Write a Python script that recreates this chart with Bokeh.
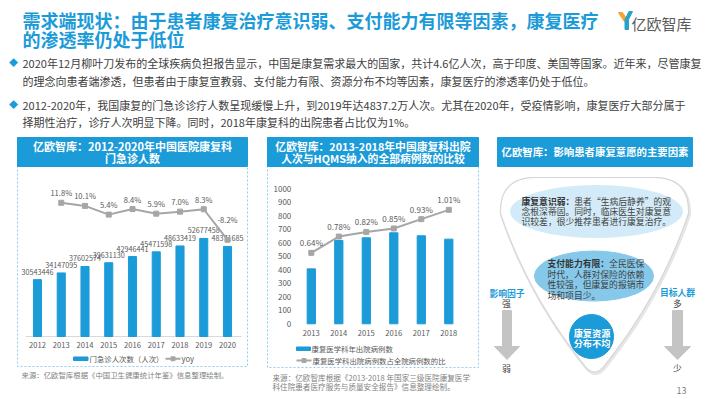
import numpy as np
from bokeh.plotting import figure
from bokeh.models import Range1d
from bokeh.core.properties import value
from bokeh.embed import file_html
from bokeh.resources import INLINE

# ---------------- data ----------------
years1 = [2012, 2013, 2014, 2015, 2016, 2017, 2018, 2019, 2020]
visits = [30543446, 34147095, 37602574, 39631130, 42946441, 45471598, 48633419, 52677458, 48371685]
yoy_years = [2013, 2014, 2015, 2016, 2017, 2018, 2019, 2020]
yoy = [11.8, 10.1, 5.4, 8.4, 5.9, 7.0, 8.3, -8.2]

years2 = [2013, 2014, 2015, 2016, 2017, 2018]
discharges = [407, 617, 637, 674, 652, 627]
ratio = [0.64, 0.78, 0.82, 0.85, 0.93, 1.01]
yticks2 = [0, 100, 200, 300, 400, 500, 600, 700, 800, 900, 1000]

F = "Noto Sans CJK SC"
BLUE = "#1B9BD8"
GRAY_LINE = "#A6A6A6"
TXT = "#404040"
LBL = "#595959"

p = figure(width=710, height=399, x_range=Range1d(0, 710), y_range=Range1d(399, 0),
           output_backend="svg", toolbar_location=None, min_border=0,
           x_axis_location=None, y_axis_location=None)
p.grid.visible = False
p.outline_line_color = None
p.background_fill_color = "white"
p.border_fill_color = "white"


def txt(x, y, s, size, color=TXT, bold=False, align="left", baseline="middle"):
    p.text(x=[x], y=[y], text=[s], text_font=value(F), text_font_size=value(f"{size}px"),
           text_color=color, text_font_style="bold" if bold else "normal",
           text_align=align, text_baseline=baseline)


# ---------------- header ----------------
txt(22, 19.5, "需求端现状：由于患者康复治疗意识弱、支付能力有限等因素，康复医疗", 18, BLUE, bold=True)
txt(22, 38, "的渗透率仍处于低位", 18, BLUE, bold=True)

# logo
p.patch([618, 622, 626, 624, 621], [12, 12, 18, 21, 17], color="#F5A431")
p.patch([628.5, 632, 628, 628, 624.5, 624.5], [11, 11, 19, 29, 29, 19], color="#27A3C9")
txt(631, 22.5, "亿欧智库", 15, "#5A5A5A")

txt(13, 62, "◆", 9, BLUE, align="center")
txt(22, 62, "2020年12月柳叶刀发布的全球疾病负担报告显示，中国是康复需求最大的国家，共计4.6亿人次，高于印度、美国等国家。近年来，尽管康复", 11)
txt(22, 80, "的理念向患者端渗透，但患者由于康复宣教弱、支付能力有限、资源分布不均等因素，康复医疗的渗透率仍处于低位。", 11)
txt(13, 104, "◆", 9, BLUE, align="center")
txt(22, 104, "2012-2020年，我国康复的门急诊诊疗人数呈现缓慢上升，到2019年达4837.2万人次。尤其在2020年，受疫情影响，康复医疗大部分属于", 11)
txt(22, 121.5, "择期性治疗，诊疗人次明显下降。同时，2018年康复科的出院患者占比仅为1%。", 11)

# ---------------- panel frames ----------------
for (x0, x1, y1) in [(17, 247, 366), (267, 478, 367)]:
    p.quad(left=[x0], right=[x1], top=[137], bottom=[y1], fill_color=None,
           line_color="#8ECDED", line_width=1, line_dash="2 2")
p.quad(left=[17, 267, 497], right=[247, 478, 692], top=[137, 137, 137], bottom=[166, 166, 166],
       color=BLUE)
txt(132, 145, "亿欧智库：2012-2020年中国医院康复科", 11, "white", bold=True, align="center")
txt(132, 157, "门急诊人数", 11, "white", bold=True, align="center")
txt(372.5, 145, "亿欧智库：2013-2018年中国康复科出院", 10.8, "white", bold=True, align="center")
txt(372.5, 157, "人次与HQMS纳入的全部病例数的比较", 10.8, "white", bold=True, align="center")
txt(594.5, 151, "亿欧智库：影响患者康复意愿的主要因素", 10.4, "white", bold=True, align="center")

# ---------------- left chart ----------------
s1 = p.subplot(x_source=Range1d(2012, 2020), y_source=Range1d(0, 60e6),
               x_target=Range1d(37, 227), y_target=Range1d(336, 224.3))
s1.segment(x0=[2011.5], x1=[2020.6], y0=[0], y1=[0], line_color="#D9D9D9", line_width=1)
s1.vbar(x=years1, top=visits, width=0.34, color=BLUE)
s1.text(x=years1, y=visits, text=[str(v) for v in visits], text_font=value(F),
        text_font_size=value("7.2px"), text_color=LBL, text_align="center",
        text_baseline="middle", y_offset=-8)
s1.text(x=years1, y=[0] * len(years1), text=[str(y) for y in years1], text_font=value(F),
        text_font_size=value("7.6px"), text_color=LBL, text_align="center",
        text_baseline="middle", y_offset=8)

s2 = p.subplot(x_source=Range1d(2012, 2020), y_source=Range1d(0, 12),
               x_target=Range1d(37, 227), y_target=Range1d(224.1, 201.9))
s2.line(x=yoy_years, y=yoy, line_color=GRAY_LINE, line_width=2)
s2.scatter(x=yoy_years, y=yoy, marker="square", size=5, color=GRAY_LINE)
yoy_off = [-10, -10, -10, -10, -10, -10, -10, -20]
s2.text(x=yoy_years, y=yoy, text=[f"{v:.1f}%" for v in yoy], text_font=value(F),
        text_font_size=value("7.6px"), text_color=LBL, text_align="center",
        text_baseline="middle", y_offset=yoy_off)

# legend left
p.quad(left=[73], right=[87.5], top=[356.5], bottom=[360], color=BLUE)
txt(89, 358.3, "门急诊人次数（人次）", 7.4, LBL)
p.line([165, 180], [358.3, 358.3], line_color=GRAY_LINE, line_width=2)
p.scatter([172.5], [358.3], marker="square", size=4, color=GRAY_LINE)
txt(181, 358.3, "yoy", 7.6, LBL)
txt(21, 374.3, "来源：亿欧智库根据《中国卫生健康统计年鉴》信息整理绘制。", 7.4, "#7F7F7F")

# ---------------- middle chart ----------------
s3 = p.subplot(x_source=Range1d(2013, 2018), y_source=Range1d(0, 1000),
               x_target=Range1d(310.8, 448.3), y_target=Range1d(323.3, 188.3))
s3.vbar(x=years2, top=discharges, width=0.30, color=BLUE)
s3.text(x=[2013] * len(yticks2), y=yticks2, text=[str(t) for t in yticks2], text_font=value(F),
        text_font_size=value("8px"), text_color=LBL, text_align="right",
        text_baseline="middle", x_offset=-20)
s3.text(x=years2, y=[0] * len(years2), text=[str(y) for y in years2], text_font=value(F),
        text_font_size=value("7.6px"), text_color=LBL, text_align="center",
        text_baseline="middle", y_offset=9)

s4 = p.subplot(x_source=Range1d(2013, 2018), y_source=Range1d(0, 1.2),
               x_target=Range1d(310.8, 448.3), y_target=Range1d(326.7, 187.3))
s4.line(x=years2, y=ratio, line_color=GRAY_LINE, line_width=2)
s4.scatter(x=years2, y=ratio, marker="square", size=5, color=GRAY_LINE)
s4.text(x=years2, y=ratio, text=[f"{v:.2f}%" for v in ratio], text_font=value(F),
        text_font_size=value("8px"), text_color=LBL, text_align="center",
        text_baseline="middle", y_offset=-10)

# legend middle
p.quad(left=[296], right=[310], top=[346.5], bottom=[350], color=BLUE)
txt(311, 348.3, "康复医学科年出院病例数", 7.4, LBL)
p.line([296, 311], [360, 360], line_color=GRAY_LINE, line_width=2)
p.scatter([303.5], [360], marker="square", size=4, color=GRAY_LINE)
txt(312, 360, "康复医学科出院病例数占全院病例数的比", 7.4, LBL)
txt(272, 377.3, "来源：亿欧智库根据《2013-2018 年国家三级医院康复医学", 7.6, "#7F7F7F")
txt(272, 386.3, "科住院患者医疗服务与质量安全报告》信息整理绘制。", 7.6, "#7F7F7F")

# ---------------- right diagram ----------------
def qbez(p0, p1, p2, n=20):
    t = np.linspace(0, 1, n)[:, None]
    return (1 - t) ** 2 * np.array(p0) + 2 * t * (1 - t) * np.array(p1) + t ** 2 * np.array(p2)

left_half = np.vstack([
    np.array([[594, 177], [535, 177]]),
    qbez((535, 177), (499, 177), (500, 213)),
    qbez((500, 213), (528, 295), (584, 365)),
    qbez((584, 365), (589, 371.5), (594, 371.5)),
])
right_half = left_half[::-1].copy()
right_half[:, 0] = 1188 - right_half[:, 0]
shape = np.vstack([left_half, right_half])
p.patch(shape[:, 0] + 1, shape[:, 1] + 1.5, fill_color="#EEEEEE", line_color="#E6E6E6", line_width=3)
p.patch(shape[:, 0], shape[:, 1], fill_color="white", line_color="#D6D6D6", line_width=1.2)

p.ellipse(x=[596], y=[211], width=[172], height=[52], color="#D3EBF8")
p.ellipse(x=[593.5], y=[275.5], width=[119], height=[50], color="#86C8EA")
p.ellipse(x=[591], y=[336], width=[44], height=[44], color=BLUE)

txt(521, 200.7, "康复意识弱：", 8.8, "#333333", bold=True)
txt(573.8, 200.7, "患者“生病后静养”的观", 8.8)
txt(521, 210.7, "念根深蒂固。同时，临床医生对康复意", 8.8)
txt(521, 220.7, "识较差，很少推荐患者进行康复治疗。", 8.8)

txt(547, 263, "支付能力有限：", 8.8, "#333333", bold=True)
txt(608.6, 263, "全民医保", 8.8)
txt(547, 273.5, "时代，人群对保险的依赖", 8.8)
txt(547, 284, "性较强，但康复的报销市", 8.8)
txt(547, 294.5, "场和项目少。", 8.8)

txt(591.5, 332.5, "康复资源", 9.2, "white", bold=True, align="center")
txt(591.5, 342, "分布不均", 9.2, "white", bold=True, align="center")

ARW = "#C4C4C4"
p.patch([502, 511, 511, 519, 506.5, 494, 502], [310, 310, 346, 346, 359, 346, 346], color=ARW)
p.patch([672, 682, 682, 690, 677, 664, 672], [310, 310, 346, 346, 359, 346, 346], color=ARW)
txt(506.5, 293, "影响因子", 8.8, BLUE, bold=True, align="center")
txt(506, 303.3, "强", 8.8, TXT, align="center")
txt(506, 368, "弱", 8.8, TXT, align="center")
txt(677, 292.3, "目标人群", 8.8, BLUE, bold=True, align="center")
txt(677, 303.3, "多", 8.8, TXT, align="center")
txt(677, 367.5, "少", 8.8, TXT, align="center")

txt(681, 389.5, "13", 9, "#7F7F7F", align="center")

open("out.html", "w").write(file_html(p, INLINE))
